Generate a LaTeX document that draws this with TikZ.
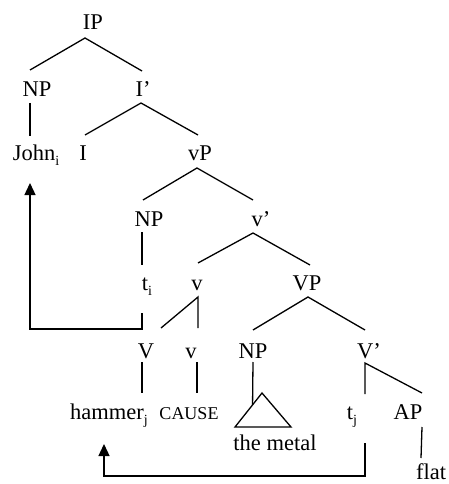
\documentclass[tikz,border=0pt]{standalone}
\usepackage{fontspec}
\setmainfont{Liberation Serif}
\usetikzlibrary{arrows.meta,calc}
\newcommand\idx[1]{\raisebox{-5pt}{\fontsize{14}{14}\selectfont #1}}
\begin{document}
\begin{tikzpicture}[x=1pt,y=-1pt,
  lab/.style={anchor=base,inner sep=0pt,font=\fontsize{22.5}{27}\selectfont},
  smallcap/.style={anchor=base,inner sep=0pt,font=\fontsize{18}{22}\selectfont},
  edge/.style={line width=1.3pt,line cap=butt},
  mv/.style={line width=1.3pt,-{Triangle[length=12pt,width=11pt]}}]
\useasboundingbox (0,0) rectangle (449,484);

% labels of the tree
\node[lab] (ip)    at (93,30)  {IP};
\node[lab] (np1)   at (37,97)  {NP};
\node[lab] (ibar)  at (143,97) {I’};
\node[lab] (john)  at (36,160) {John\idx{i}};
\node[lab] (infl)  at (83,160) {I};
\node[lab] (vp)    at (200,160) {vP};
\node[lab] (np2)   at (149,226) {NP};
\node[lab] (vbar)  at (261,226) {v’};
\node[lab] (ti)    at (147,290) {t\idx{i}};
\node[lab] (vlit)  at (197,290) {v};
\node[lab] (VP)    at (307,290) {VP};
\node[lab] (V)     at (146,358) {V};
\node[lab] (vsm)   at (191,358) {v};
\node[lab] (np3)   at (253,358) {NP};
\node[lab] (Vbar)  at (369,358) {V’};
\node[lab] (hammer) at (109,419) {hammer\idx{j}};
\node[smallcap] (cause) at (189,419) {CAUSE};
\node[lab] (tj)    at (352,419) {t\idx{j}};
\node[lab] (ap)    at (408,419) {AP};
\node[lab] (metal) at (275,450) {the metal};
\node[lab] (flat)  at (431,479) {flat};

% triangle over "the metal"
\coordinate (triT) at (262,393);
\coordinate (triL) at (235,427);
\coordinate (triR) at (291,427);
\draw[edge,line join=miter] (triT) -- (triL) -- (triR) -- cycle;

% branches
\draw[edge] ([shift={(-7,-27)}]np1.base) -- ([shift={(-8,8)}]ip.base) -- ([shift={(-1,-26)}]ibar.base);
\draw[edge] ([shift={(-7,6)}]np1.base) -- ([shift={(-6,-24)}]john.base);
\draw[edge] ([shift={(2,-25)}]infl.base) -- ([shift={(-2,6)}]ibar.base) -- ([shift={(-2,-25)}]vp.base);
\draw[edge] ([shift={(-6,-26)}]np2.base) -- ([shift={(-3,8)}]vp.base) -- ([shift={(-8,-26)}]vbar.base);
\draw[edge] ([shift={(-7,6)}]np2.base) -- ([shift={(-5,-25)}]ti.base);
\draw[edge] ([shift={(1,-27)}]vlit.base) -- ([shift={(-8,7)}]vbar.base) -- ([shift={(3,-25)}]VP.base);
\draw[edge] ([shift={(15,-30)}]V.base) -- ([shift={(1,7)}]vlit.base) -- ([shift={(7,-30)}]vsm.base);
\draw[edge] ([shift={(0,-28)}]np3.base) -- ([shift={(1,7)}]VP.base) -- ([shift={(-4,-28)}]Vbar.base);
\draw[edge] ([shift={(-4,4)}]V.base) -- ([shift={(33,-26)}]hammer.base);
\draw[edge] ([shift={(6,4)}]vsm.base) -- ([shift={(8,-26)}]cause.base);
\draw[edge] ([shift={(0,4)}]np3.base) -- ($(triT)!0.35!(triL)$);
\draw[edge] ([shift={(13,-25)}]tj.base) -- ([shift={(-4,5)}]Vbar.base) -- ([shift={(14,-26)}]ap.base);
\draw[edge] ([shift={(14,8)}]ap.base) -- ([shift={(-10,-21)}]flat.base);

% movement arrows
\draw[mv] ([shift={(-5,23)}]ti.base) -- ++(0,16) -| ([shift={(-6,23)}]john.base);
\draw[mv] ([shift={(13,24)}]tj.base) -- ++(0,33) -| ([shift={(-5,25)}]hammer.base);
\end{tikzpicture}
\end{document}
